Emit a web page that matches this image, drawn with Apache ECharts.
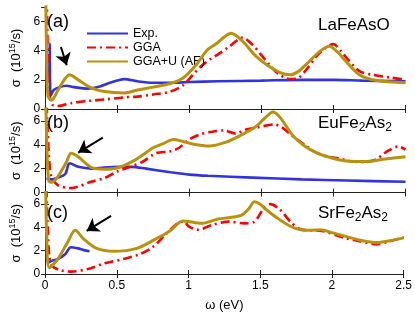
<!DOCTYPE html>
<html><head><meta charset="utf-8">
<script src="https://cdn.jsdelivr.net/npm/echarts@6/dist/echarts.min.js"></script>
<style>html,body{margin:0;padding:0;background:#fff}#c{width:415px;height:313px}</style>
</head><body><div id="c"></div>
<script>
// ---- data (x in eV, sigma in 10^15/s) ----
const legendNames = ['Exp.', 'GGA', 'GGA+U (AF)'];
const panelLetters = ['(a)', '(b)', '(c)'];
const materials = ['{n|LaFeAsO}', '{n|EuFe}{s|2}{n|As}{s|2}', '{n|SrFe}{s|2}{n|As}{s|2}'];
const yTickMax = 7, yInterval = 2, xMax = 2.5, xInterval = 0.5;

const expA = [[0.028,1.8],[0.032,4.5],[0.035,1.8],[0.04,0.95],[0.06,1.3],[0.1,1.5],[0.15,1.6],[0.2,1.5],[0.3,1.4],[0.38,1.55],[0.45,1.8],[0.5,1.95],[0.55,2.05],[0.64,1.9],[0.75,1.8],[0.87,1.8],[1.0,1.85],[1.2,1.9],[1.5,1.95],[1.8,2.0],[2.0,2.0],[2.2,1.95],[2.5,1.9]];
const ggaA = [[0.005,9],[0.012,7.5],[0.02,3],[0.03,1.0],[0.05,0.3],[0.08,0.2],[0.12,0.25],[0.18,0.4],[0.3,0.55],[0.41,0.65],[0.55,0.8],[0.64,0.85],[0.75,1.0],[0.87,1.2],[0.96,1.65],[1.03,2.4],[1.09,3.0],[1.15,3.45],[1.2,3.75],[1.28,4.3],[1.37,4.9],[1.44,4.4],[1.5,3.7],[1.56,3.0],[1.62,2.4],[1.7,2.05],[1.76,2.15],[1.82,2.8],[1.88,3.6],[1.94,4.15],[2.0,4.45],[2.05,4.0],[2.1,3.4],[2.18,2.6],[2.27,2.35],[2.4,2.15],[2.5,2.0]];
const ggauA = [[0.003,9],[0.01,4],[0.02,0.9],[0.045,0.6],[0.09,1.3],[0.14,2.1],[0.17,2.35],[0.23,2.0],[0.32,1.45],[0.41,1.2],[0.55,1.1],[0.64,1.3],[0.75,1.5],[0.87,1.75],[0.96,2.15],[1.05,3.05],[1.12,4.0],[1.19,4.5],[1.29,5.2],[1.37,4.65],[1.46,3.65],[1.55,2.95],[1.63,2.5],[1.7,2.35],[1.76,2.6],[1.81,3.05],[1.9,3.9],[1.97,4.3],[2.03,3.9],[2.08,3.35],[2.18,2.35],[2.3,1.95],[2.5,1.8]];

const expB = [[0.01,1.2],[0.045,1.1],[0.09,1.25],[0.14,1.55],[0.16,2.3],[0.17,2.45],[0.23,2.15],[0.32,2.0],[0.41,2.1],[0.52,2.15],[0.6,2.15],[0.7,2.0],[0.87,1.7],[1.0,1.5],[1.13,1.4],[1.44,1.25],[1.78,1.1],[2.1,1.0],[2.5,0.9]];
const ggaB = [[0.008,9],[0.015,6],[0.03,2.5],[0.045,1.3],[0.09,0.6],[0.18,0.37],[0.32,0.9],[0.41,1.2],[0.5,1.75],[0.59,2.15],[0.68,2.6],[0.77,3.3],[0.87,3.45],[0.93,3.75],[1.0,4.45],[1.07,4.85],[1.16,5.1],[1.24,5.2],[1.32,4.95],[1.4,5.3],[1.47,5.45],[1.59,5.7],[1.65,5.4],[1.72,4.7],[1.8,4.0],[1.88,3.35],[1.96,3.0],[2.04,2.85],[2.13,2.6],[2.22,2.55],[2.3,2.8],[2.36,3.35],[2.45,3.85],[2.5,3.6]];
const ggauB = [[0.003,9],[0.012,4],[0.025,1.0],[0.045,0.85],[0.09,1.35],[0.15,2.6],[0.18,3.3],[0.23,3.0],[0.32,2.1],[0.41,1.95],[0.5,2.05],[0.59,2.5],[0.66,3.0],[0.75,3.75],[0.82,4.1],[0.89,4.45],[0.95,4.3],[1.03,4.05],[1.14,3.9],[1.25,4.2],[1.35,4.75],[1.46,5.5],[1.53,6.3],[1.58,6.75],[1.63,6.3],[1.72,4.75],[1.8,3.9],[1.88,3.35],[2.0,2.85],[2.09,2.65],[2.22,2.6],[2.36,2.8],[2.5,3.0]];

const expC = [[0.012,1.4],[0.025,1.0],[0.05,1.15],[0.09,1.3],[0.14,1.7],[0.18,2.3],[0.23,2.2],[0.27,2.05],[0.31,1.95]];
const ggaC = [[0.008,9],[0.015,5],[0.03,1.5],[0.05,0.7],[0.1,0.35],[0.18,0.2],[0.32,0.5],[0.41,0.9],[0.55,1.3],[0.66,1.7],[0.75,2.3],[0.84,3.4],[0.93,4.4],[0.97,4.5],[1.0,4.1],[1.07,3.8],[1.16,4.2],[1.28,4.5],[1.39,4.35],[1.46,4.5],[1.53,5.75],[1.57,6.0],[1.64,5.5],[1.71,4.5],[1.78,3.85],[1.86,3.75],[1.93,3.7],[2.09,3.1],[2.2,2.8],[2.31,2.55],[2.4,2.8],[2.5,3.15]];
const ggauC = [[0.003,9],[0.012,3],[0.03,0.55],[0.09,1.3],[0.16,2.8],[0.21,3.75],[0.27,3.0],[0.36,2.2],[0.48,1.95],[0.64,2.2],[0.77,3.0],[0.87,3.7],[0.96,4.55],[1.0,4.5],[1.09,4.35],[1.2,4.7],[1.31,4.9],[1.37,5.05],[1.42,5.6],[1.46,6.2],[1.5,6.0],[1.53,5.65],[1.62,4.8],[1.71,4.1],[1.78,3.8],[1.86,3.75],[1.92,3.8],[2.0,3.55],[2.09,3.25],[2.2,2.9],[2.31,2.7],[2.4,2.85],[2.5,3.1]];

// arrow annotations in data coords: [tailX, tailY, headX, headY]
const arrows = [[0.11,4.25,0.15,3.0],[0.40,4.6,0.23,3.35],[0.46,5.0,0.29,3.7]];

const panels = [[expA, ggaA, ggauA],[expB, ggaB, ggauB],[expC, ggaC, ggauC]];

// ---- layout / style ----
const gridBoxes = [{top:7,height:102},{top:109,height:83.5},{top:192.5,height:83.5}];
const colors = ['#3333dd', '#ff0000', '#b8920f'];
const widths = [2.6, 2.6, 3];
const FONT = 'Liberation Sans, Arial, Helvetica, sans-serif';
const axisCol = '#222';

const grid = gridBoxes.map(g => ({left:40, width:365.5, top:g.top, height:g.height, containLabel:false}));
const xAxis = [], yAxis = [];
gridBoxes.forEach((g, i) => {
  const common = {type:'value', min:0, max:xMax, interval:xInterval, gridIndex:i,
    axisLine:{show:true, lineStyle:{color:axisCol, width:1}},
    axisTick:{show:true, inside:true, length:4, lineStyle:{color:axisCol}},
    splitLine:{show:false}};
  xAxis.push(Object.assign({}, common, {position:'bottom',
    axisLabel:{show:i===2, color:'#000', fontSize:12, fontFamily:FONT, margin:6,
      formatter: v => String(v)},
    name: i===2 ? 'ω (eV)' : '', nameLocation:'middle', nameGap:25,
    nameTextStyle:{color:'#000', fontSize:13, fontFamily:FONT}}));
  xAxis.push(Object.assign({}, common, {position:'top', axisLabel:{show:false}}));
  const yc = {type:'value', min:0, max:yTickMax, interval:yInterval, gridIndex:i,
    axisLine:{show:true, lineStyle:{color:axisCol, width:1}},
    axisTick:{show:true, inside:true, length:4, lineStyle:{color:axisCol}},
    splitLine:{show:false}};
  yAxis.push(Object.assign({}, yc, {position:'left',
    axisLabel:{show:true, color:'#000', fontSize:12, fontFamily:FONT, margin:5, showMaxLabel:false},
    name:'{a|σ  (10}{b|15}{a|/s)}', nameLocation:'middle', nameGap:20, nameRotate:90,
    nameTextStyle:{color:'#000', fontFamily:FONT,
      rich:{a:{fontSize:13, color:'#000', fontFamily:FONT}, b:{fontSize:9, color:'#000', fontFamily:FONT, padding:[0,0,7,0]}}}}));
  yAxis.push(Object.assign({}, yc, {position:'right', axisLabel:{show:false}}));
});

const series = [];
panels.forEach((p, i) => {
  const order = [1, 0, 2]; // draw GGA, Exp, GGA+U
  order.forEach(k => {
    const s = {
      name: legendNames[k], type:'line', xAxisIndex:2*i, yAxisIndex:2*i,
      data: p[k], symbol:'none', showSymbol:false, smooth:0.3, clip:true,
      lineStyle:{color:colors[k], width: widths[k], type: k===1 ? [9,4,2,4] : 'solid'},
      itemStyle:{color:colors[k]}, z: 2 + k
    };
    if (k === 2) {
      const a = arrows[i];
      s.markLine = {silent:true, symbol:['none','arrow'], symbolSize:12, label:{show:false},
        lineStyle:{color:'#000', width:2, type:'solid'},
        data:[[{coord:[a[0],a[1]]},{coord:[a[2],a[3]]}]]};
    }
    series.push(s);
  });
});

const labelY = [22, 123, 213];
const matY = [25, 123, 213];
const graphic = [];
labelY.forEach((y, i) => {
  graphic.push({type:'text', x:47, y:y, z:100, style:{text:panelLetters[i], fill:'#000',
    font:'18px ' + FONT, verticalAlign:'middle'}});
  graphic.push({type:'text', x:318, y:matY[i], z:100, style:{text:materials[i], verticalAlign:'middle',
    rich:{n:{fontSize:17, fontFamily:FONT, fill:'#000', color:'#000'},
          s:{fontSize:12, fontFamily:FONT, fill:'#000', color:'#000', padding:[9,0,0,0]}}}});
});

const option = {
  animation:false, backgroundColor:'#fff',
  textStyle:{fontFamily:FONT},
  grid, xAxis, yAxis, series, graphic,
  legend:{data:legendNames, orient:'vertical', left:81, top:22, itemWidth:41, itemHeight:14, itemGap:1,
    itemStyle:{opacity:0},
    textStyle:{fontSize:12.5, color:'#000', fontFamily:FONT}, selectedMode:false}
};
const chart = echarts.init(document.getElementById('c'), null, {renderer:'canvas'});
chart.setOption(option);
</script></body></html>
